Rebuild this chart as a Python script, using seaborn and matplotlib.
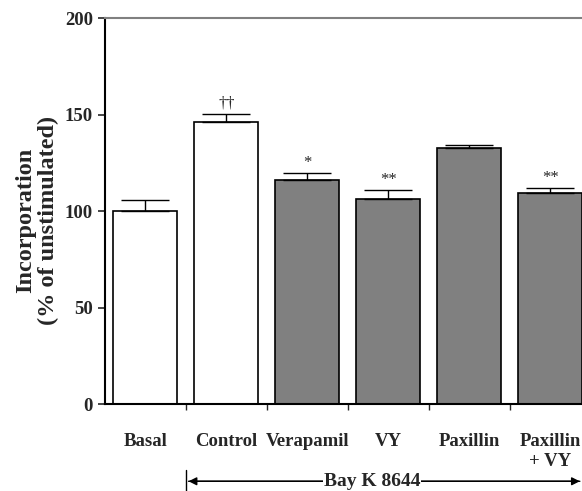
import numpy as np
import pandas as pd
import matplotlib
matplotlib.use("Agg")
import matplotlib.pyplot as plt
import seaborn as sns

# --- data ---
groups = ["Basal", "Control", "Verapamil", "VY", "Paxillin", "Paxillin\n+ VY"]
incorporation = [100, 146, 116, 106.5, 132.5, 109.5]
sem = [6, 4.5, 3.8, 4.3, 2, 2.5]
marks = ["", "\u2020\u2020", "*", "**", "", "**"]
bar_colors = ["white", "white", "#808080", "#808080", "#808080", "#808080"]

df = pd.DataFrame({"group": groups, "value": incorporation})

sns.set_style("ticks")
plt.rcParams["font.family"] = ["Liberation Serif", "DejaVu Serif"]
plt.rcParams["font.weight"] = "bold"

fig = plt.figure(figsize=(5.82, 4.91), dpi=100)
ax = fig.add_axes([0.180, 0.177, 0.835, 0.786])

sns.barplot(data=df, x="group", y="value", hue="group", palette=bar_colors,
            legend=False, width=0.79, edgecolor="black", linewidth=1.2, ax=ax)

# upward-only error bars
xpos = np.arange(len(groups))
ax.errorbar(xpos, incorporation, yerr=[np.zeros(len(sem)), sem], fmt="none",
            ecolor="black", elinewidth=1.0, capsize=17, capthick=1.0)

for x, v, e, m in zip(xpos, incorporation, sem, marks):
    if m:
        ax.text(x, v + e + 1.2, m, ha="center", va="bottom", fontsize=12,
                fontweight="normal")

ax.set_xlim(-0.5, len(groups) - 0.5)
ax.set_ylim(0, 200)
ax.set_yticks([0, 50, 100, 150, 200])
ax.tick_params(axis="y", labelsize=13.5, width=1.2, length=5, direction="out")

# ticks at category boundaries, labels at centres
ax.set_xticks(np.arange(len(groups) - 1) + 0.5)
ax.set_xticklabels([])
ax.tick_params(axis="x", which="major", length=4, width=1.0)
ax.set_xticks(xpos, minor=True)
ax.set_xticklabels(groups, minor=True, fontsize=13.5, fontweight="bold", linespacing=1.2)
ax.tick_params(axis="x", which="minor", length=0, pad=21)
for lab in ax.get_xticklabels(minor=True):
    lab.set_verticalalignment("top")

ax.set_xlabel("")
ax.set_ylabel("Incorporation\n(% of unstimulated)", fontsize=17.5, fontweight="bold",
              linespacing=1.05)
ax.yaxis.set_label_coords(-0.095, 0.475)

for s in ["left", "bottom"]:
    ax.spines[s].set_linewidth(1.5)
    ax.spines[s].set_color("black")
ax.spines["top"].set_visible(True)
ax.spines["top"].set_color("#808080")
ax.spines["top"].set_linewidth(1.5)
ax.spines["right"].set_visible(False)

# Bay K 8644 bracket
y_arrow = -40
ax.annotate("", xy=(0.5, y_arrow), xytext=(5.4, y_arrow), annotation_clip=False,
            arrowprops=dict(arrowstyle="-|>", color="black", lw=1.0, mutation_scale=12))
ax.annotate("", xy=(5.4, y_arrow), xytext=(0.5, y_arrow), annotation_clip=False,
            arrowprops=dict(arrowstyle="-|>", color="black", lw=1.0, mutation_scale=12))
ax.plot([0.5, 0.5], [-34, -45], color="black", lw=1.0, clip_on=False)
ax.text(2.8, y_arrow, "Bay K 8644", ha="center", va="center", fontsize=14,
        fontweight="bold", bbox=dict(facecolor="white", edgecolor="none", pad=0.3))

fig.savefig("out.png", dpi=100)
